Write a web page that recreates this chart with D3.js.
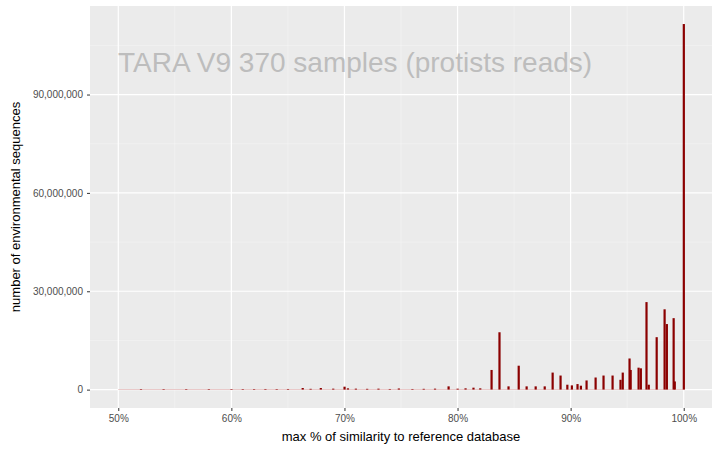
<!DOCTYPE html><html><head><meta charset="utf-8"><script src="https://cdn.jsdelivr.net/npm/d3@7"></script>
<style>body{margin:0}text{font-family:"Liberation Sans",Arial,sans-serif}</style></head><body><svg id="c" width="720" height="450"></svg>
<script>
const similarity=[52,54,56,58,60,61,62,63,64,65,66.3,67,67.9,69,70,70.3,71,72,73,74,74.8,76,77,78,79.2,80,80.7,81.4,82,83.0,83.7,84.5,85.4,86.1,86.9,87.7,88.4,89.1,89.7,90.1,90.6,90.9,91.4,92.2,92.9,93.7,94.4,94.6,95.2,95.3,96.0,96.2,96.7,96.9,97.6,98.3,98.5,99.1,99.2,100];
const counts=[100e3,80e3,100e3,90e3,120e3,150e3,100e3,200e3,150e3,200e3,500e3,250e3,500e3,300e3,900e3,400e3,300e3,250e3,300e3,200e3,350e3,200e3,250e3,300e3,1.0e6,300e3,400e3,600e3,400e3,6.0e6,17.5e6,1.0e6,7.3e6,1.0e6,1.0e6,1.0e6,5.2e6,4.3e6,1.5e6,1.3e6,1.7e6,1.2e6,2.8e6,3.7e6,4.3e6,4.3e6,3.0e6,5.2e6,9.5e6,6.0e6,6.7e6,6.5e6,26.7e6,1.5e6,16e6,24.5e6,20e6,21.8e6,2.5e6,111.5e6];
const xTicks=[50,60,70,80,90,100];
const yTicks=[0,30e6,60e6,90e6];
const svg=d3.select("#c");
const L=90,R=712,T=6,B=408;
const x=d3.scaleLinear().domain([47.5,102.5]).range([L,R]);
const y=d3.scaleLinear().domain([-5.6e6,117e6]).range([B,T]);
svg.append("rect").attr("x",L).attr("y",T).attr("width",R-L).attr("height",B-T).attr("fill","#ebebeb");
const g=svg.append("g");
[45,55,65,75,85,95].forEach(v=>{if(x(v)>L)g.append("line").attr("x1",x(v)).attr("x2",x(v)).attr("y1",T).attr("y2",B).attr("stroke","#f5f5f5").attr("stroke-width",0.6)});
[15e6,45e6,75e6,105e6].forEach(v=>g.append("line").attr("x1",L).attr("x2",R).attr("y1",y(v)).attr("y2",y(v)).attr("stroke","#f5f5f5").attr("stroke-width",0.6));
xTicks.forEach(v=>g.append("line").attr("x1",x(v)).attr("x2",x(v)).attr("y1",T).attr("y2",B).attr("stroke","#fff").attr("stroke-width",1.2));
yTicks.forEach(v=>g.append("line").attr("x1",L).attr("x2",R).attr("y1",y(v)).attr("y2",y(v)).attr("stroke","#fff").attr("stroke-width",1.2));
svg.append("text").attr("x",118).attr("y",72).attr("font-size",28).attr("fill","#bdbdbd").text("TARA V9 370 samples (protists reads)");
svg.selectAll(".bar").data(similarity).join("rect").attr("x",d=>x(d)-1).attr("width",2.2)
 .attr("y",(d,i)=>y(counts[i])).attr("height",(d,i)=>Math.max(0.6,y(0)-y(counts[i]))).attr("fill","#8b0000");
svg.append("line").attr("x1",x(50)).attr("x2",x(100)).attr("y1",y(0)).attr("y2",y(0)).attr("stroke","#b55").attr("stroke-width",0.6).attr("opacity",0.6);
const xa=svg.append("g").attr("transform",`translate(0,${B})`).call(d3.axisBottom(x).tickValues(xTicks).tickFormat(d=>d+"%").tickSize(3).tickPadding(4));
const ya=svg.append("g").attr("transform",`translate(${L},0)`).call(d3.axisLeft(y).tickValues(yTicks).tickFormat(d3.format(",")).tickSize(3).tickPadding(4));
[xa,ya].forEach(a=>{a.select(".domain").remove();a.selectAll("line").attr("stroke","#333");a.selectAll("text").attr("font-size",10).attr("fill","#4d4d4d")});
svg.append("text").attr("x",(L+R)/2).attr("y",441).attr("text-anchor","middle").attr("font-size",13).text("max % of similarity to reference database");
svg.append("text").attr("transform",`translate(20,${(T+B)/2}) rotate(-90)`).attr("text-anchor","middle").attr("font-size",13).text("number of environmental sequences");
</script></body></html>
